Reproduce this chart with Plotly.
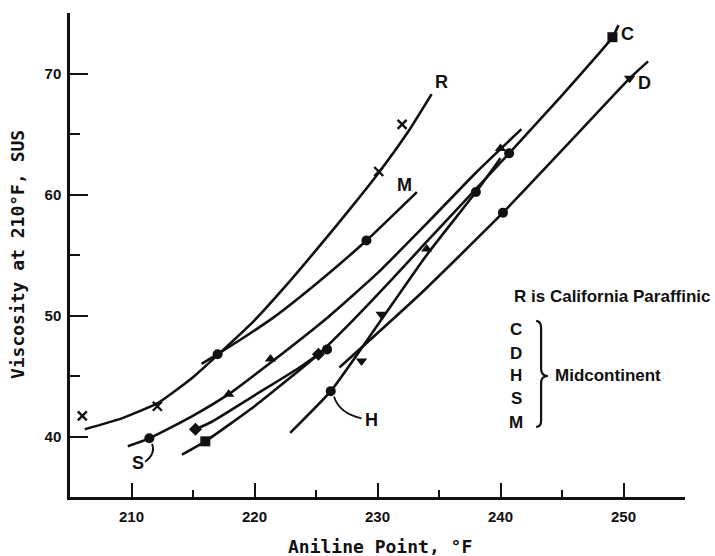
import plotly.graph_objects as go

# ---------------- data ----------------
# curve paths (Aniline point degF, viscosity SUS)
R_x = [206.2, 209.2, 212.2, 215.0, 217.5, 220.0, 222.5, 225.5, 228.0, 230.1, 232.5, 234.4]
R_y = [40.6, 41.5, 42.8, 44.9, 47.2, 49.6, 52.4, 56.0, 59.1, 61.8, 65.2, 68.3]
M_x = [215.7, 217.0, 221.5, 225.0, 229.1, 233.2]
M_y = [46.0, 46.8, 49.8, 52.6, 56.2, 60.2]
S_x = [209.7, 211.45, 214.8, 217.9, 221.3, 225.9, 230.0, 234.0, 238.0, 241.7]
S_y = [39.2, 39.85, 41.6, 43.5, 46.1, 49.8, 53.5, 57.6, 61.8, 65.4]
C_x = [214.1, 216.0, 220.0, 225.2, 228.0, 231.0, 234.0, 237.5, 240.7, 245.0, 249.1, 249.6]
C_y = [38.5, 39.6, 42.5, 46.8, 49.6, 52.8, 56.1, 59.9, 63.4, 68.2, 73.0, 74.0]
K_x = [215.2, 216.5, 220.0, 223.5, 225.2]
K_y = [40.6, 41.2, 43.4, 45.6, 46.8]
H_x = [222.9, 226.2, 229.8, 234.0, 238.0, 240.0]
H_y = [40.3, 43.75, 48.9, 55.0, 60.2, 63.0]
D_x = [226.9, 233.5, 240.2, 245.6, 250.5, 252.0]
D_y = [45.7, 51.8, 58.5, 64.3, 69.6, 71.0]

# plotted points
R_pts_x = [206.0, 212.1, 230.1, 232.0]
R_pts_y = [41.7, 42.5, 61.9, 65.8]
M_pts_x = [217.0, 229.1]
M_pts_y = [46.8, 56.2]
S_pts_x = [211.45, 217.9, 221.3, 240.0]
S_pts_y = [39.85, 43.5, 46.4, 63.8]
S_pts_sym = ["circle", "triangle-up", "triangle-up", "triangle-up"]
C_pts_x = [216.0, 225.2, 225.9, 240.7, 249.1]
C_pts_y = [39.6, 46.8, 47.2, 63.4, 73.0]
C_pts_sym = ["square", "diamond", "circle", "circle", "square"]
K_pts_x = [215.2]
K_pts_y = [40.6]
H_pts_x = [226.2, 230.3, 234.0, 238.0]
H_pts_y = [43.75, 50.1, 55.5, 60.2]
H_pts_sym = ["circle", "triangle-down", "triangle-up", "circle"]
D_pts_x = [228.7, 240.2, 250.5]
D_pts_y = [46.25, 58.5, 69.6]
D_pts_sym = ["triangle-down", "circle", "triangle-down"]

x_ticks = [210, 220, 230, 240, 250]
y_ticks = [40, 50, 60, 70]
legend_letters = ["C", "D", "H", "S", "M"]

SANS = "Liberation Sans, Arial, sans-serif"
MONO = "DejaVu Sans Mono, Liberation Mono, monospace"
INK = "#111111"

fig = go.Figure()

for xs, ys in [(R_x, R_y), (M_x, M_y), (S_x, S_y), (C_x, C_y), (K_x, K_y), (H_x, H_y), (D_x, D_y)]:
    fig.add_trace(go.Scatter(x=xs, y=ys, mode="lines",
                             line=dict(color=INK, width=2.6, shape="spline", smoothing=0.5),
                             hoverinfo="skip", showlegend=False))

fig.add_trace(go.Scatter(x=R_pts_x, y=R_pts_y, mode="markers",
                         marker=dict(symbol="x-thin", size=9, line=dict(color=INK, width=2.4)),
                         showlegend=False))
fig.add_trace(go.Scatter(x=M_pts_x, y=M_pts_y, mode="markers",
                         marker=dict(symbol="circle", size=10, color=INK), showlegend=False))
for xs, ys, sym in [(S_pts_x, S_pts_y, S_pts_sym), (C_pts_x, C_pts_y, C_pts_sym),
                    (K_pts_x, K_pts_y, ["diamond"]), (H_pts_x, H_pts_y, H_pts_sym),
                    (D_pts_x, D_pts_y, D_pts_sym)]:
    fig.add_trace(go.Scatter(x=xs, y=ys, mode="markers",
                             marker=dict(symbol=sym, size=10, color=INK), showlegend=False))

lab_font = dict(family=SANS, size=18, color=INK, weight="bold")
txt_font = dict(family=SANS, size=17, color=INK, weight="bold")
annotations = [
    dict(x=235.2, y=69.3, text="R"),
    dict(x=232.2, y=60.8, text="M"),
    dict(x=250.3, y=73.3, text="C"),
    dict(x=251.7, y=69.2, text="D"),
    dict(x=229.5, y=41.4, text="H"),
    dict(x=210.5, y=37.8, text="S"),
]
for a in annotations:
    a.update(xref="x", yref="y", showarrow=False, font=lab_font)

annotations.append(dict(x=240.9, y=51.6, xref="x", yref="y", xanchor="left", yanchor="middle",
                        showarrow=False, text="R is California Paraffinic", font=txt_font))
leg_y = [48.87, 46.89, 45.02, 43.1, 41.17]
for letter, yy in zip(legend_letters, leg_y):
    annotations.append(dict(x=241.3, y=yy, xref="x", yref="y", showarrow=False, text=letter,
                            font=txt_font))
annotations.append(dict(x=244.3, y=45.02, xref="x", yref="y", xanchor="left", yanchor="middle",
                        showarrow=False, text="Midcontinent", font=txt_font))

title_font = dict(family=MONO, size=18, color=INK, weight="bold")
annotations.append(dict(x=-0.086, y=0.5, xref="paper", yref="paper", xanchor="center",
                        yanchor="middle", showarrow=False, textangle=-90,
                        text="Viscosity at 210°F, SUS", font=title_font))
annotations.append(dict(x=0.504, y=-0.103, xref="paper", yref="paper", xanchor="center",
                        yanchor="middle", showarrow=False,
                        text="Aniline Point, °F", font=title_font))

shapes = [
    # brace
    dict(type="path", xref="x", yref="y",
         path="M 242.9,49.55 Q 243.3,49.5 243.3,49.0 L 243.3,45.6 Q 243.3,45.0 243.85,45.0 "
              "Q 243.3,45.0 243.3,44.4 L 243.3,41.3 Q 243.3,40.8 242.9,40.8",
         line=dict(color=INK, width=2.2)),
    # S leader
    dict(type="path", xref="x", yref="y", path="M 211.67,39.4 Q 212.0,38.6 211.1,37.9",
         line=dict(color=INK, width=1.8)),
    # H leader
    dict(type="path", xref="x", yref="y", path="M 226.46,43.3 Q 226.9,41.9 228.7,41.5",
         line=dict(color=INK, width=1.8)),
]

tick_font = dict(family=SANS, size=15, color=INK, weight="bold")
fig.update_layout(
    width=715, height=556,
    margin=dict(l=70, r=30, t=13, b=59),
    paper_bgcolor="white", plot_bgcolor="white",
    annotations=annotations, shapes=shapes,
    xaxis=dict(range=[205, 255], tickvals=x_ticks, ticks="inside", ticklen=14, tickwidth=2,
               tickcolor=INK, showline=True, linewidth=2.5, linecolor=INK, showgrid=False,
               zeroline=False, tickfont=tick_font, ticklabelstandoff=4,
               minor=dict(dtick=5, tick0=205, ticks="inside", ticklen=7, tickwidth=2, tickcolor=INK)),
    yaxis=dict(range=[35, 75], tickvals=y_ticks, ticks="inside", ticklen=18, tickwidth=2,
               tickcolor=INK, showline=True, linewidth=2.5, linecolor=INK, showgrid=False,
               zeroline=False, tickfont=tick_font, ticklabelstandoff=3,
               minor=dict(dtick=5, tick0=35, ticks="inside", ticklen=10, tickwidth=2, tickcolor=INK)),
)

fig.write_html("out.html")
